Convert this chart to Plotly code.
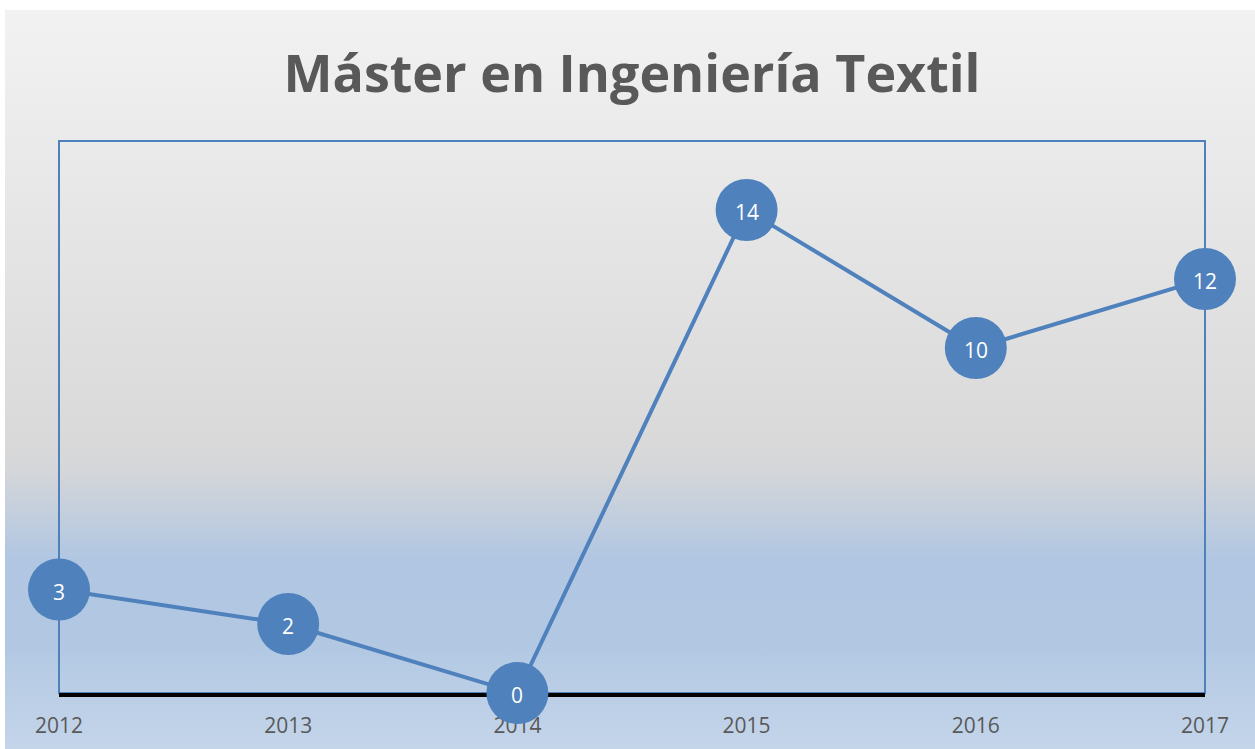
import base64
import plotly.graph_objects as go

years = [2012, 2013, 2014, 2015, 2016, 2017]
values = [3, 2, 0, 14, 10, 12]
title_text = "Máster en Ingeniería Textil"

W, H = 1255, 749
L, R, T, B = 59, 1205, 141, 693
pw, ph = R - L, B - T

svg = (
    '<svg xmlns="http://www.w3.org/2000/svg" width="100" height="100" preserveAspectRatio="none">'
    '<defs><linearGradient id="g" x1="0" y1="0" x2="0" y2="1">'
    '<stop offset="0" stop-color="#f2f2f2"/>'
    '<stop offset="0.585" stop-color="#d9d9d9"/>'
    '<stop offset="0.625" stop-color="#d4d6d9"/>'
    '<stop offset="0.745" stop-color="#b0c6e2"/>'
    '<stop offset="0.85" stop-color="#b1c7e2"/>'
    '<stop offset="1" stop-color="#c4d5ea"/>'
    '</linearGradient></defs>'
    '<rect x="0" y="0" width="100" height="100" fill="url(#g)"/></svg>'
)
src = "data:image/svg+xml;base64," + base64.b64encode(svg.encode()).decode()

fig = go.Figure()
fig.add_trace(go.Scatter(
    x=years, y=values, mode="lines+markers",
    line=dict(color="#4f81bd", width=4),
    marker=dict(size=62, color="#4f81bd"),
    cliponaxis=False, hoverinfo="skip", showlegend=False,
))

for yr, v in zip(years, values):
    fig.add_annotation(x=yr, y=v, text=str(v), showarrow=False, yshift=-2,
                       xanchor="center", yanchor="middle",
                       font=dict(color="white", size=21, family="Open Sans"))

fig.add_layout_image(dict(
    source=src, xref="paper", yref="paper",
    x=(5 - L) / pw, y=(B - 10) / ph,
    sizex=(W - 5) / pw, sizey=(H - 10) / ph,
    xanchor="left", yanchor="top", sizing="stretch", layer="below",
))

fig.add_shape(type="rect", xref="paper", yref="paper", x0=0, x1=1, y0=0, y1=1,
              line=dict(color="#4f81bd", width=2), layer="below")

fig.update_layout(
    width=W, height=H, autosize=False,
    margin=dict(l=L, r=W - R, t=T, b=H - B, autoexpand=False),
    paper_bgcolor="white", plot_bgcolor="rgba(0,0,0,0)",
    title=dict(text=title_text, x=(281 + 983) / 2 / W, xanchor="center",
               y=1 - 74 / H, yanchor="middle", yref="container", automargin=False,
               font=dict(family="Open Sans", size=52, color="#595959", weight="bold")),
    xaxis=dict(range=[2012, 2017], tickvals=years, ticktext=[str(y) for y in years],
               showgrid=False, zeroline=False, showline=True, linecolor="black", linewidth=4,
               ticks="", ticklabelstandoff=11, layer="below traces", automargin=False,
               tickfont=dict(family="Open Sans", size=21, color="#595959")),
    yaxis=dict(range=[0, 16], showgrid=False, zeroline=False, showticklabels=False,
               showline=False, ticks="", automargin=False),
    font=dict(family="Open Sans"),
)

fig.write_html("out.html", config={"responsive": False, "displayModeBar": False},
               post_script="document.body.style.margin='0';document.body.style.overflow='hidden';")
